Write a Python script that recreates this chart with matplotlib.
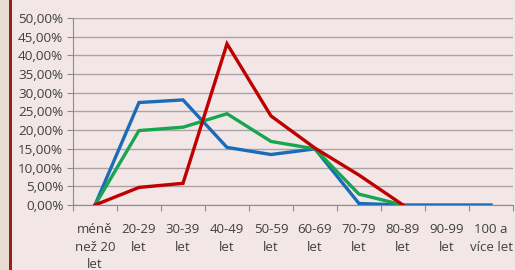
import matplotlib
matplotlib.use("Agg")
import matplotlib.pyplot as plt
from matplotlib.patches import Rectangle
from matplotlib.ticker import FuncFormatter, MultipleLocator

categories = ["méně\nnež 20\nlet", "20-29\nlet", "30-39\nlet", "40-49\nlet", "50-59\nlet",
              "60-69\nlet", "70-79\nlet", "80-89\nlet", "90-99\nlet", "100 a\nvíce let"]
blue = [0.0, 27.4, 28.1, 15.4, 13.5, 15.0, 0.4, 0.0, 0.0, 0.0]
green = [0.0, 19.9, 20.8, 24.4, 17.0, 15.0, 2.9, 0.0]
red = [0.0, 4.7, 5.8, 43.1, 23.8, 15.2, 8.0, 0.0]

plt.rcParams['font.family'] = ['Open Sans', 'DejaVu Sans']

fig = plt.figure(figsize=(5.15, 2.70), dpi=100)
bg = "#F2E6E7"
fig.patch.set_facecolor(bg)
# left decorative strip
fig.patches.append(Rectangle((0, 0), 9/515, 1, transform=fig.transFigure,
                             facecolor="#E9DDD2", edgecolor="none", zorder=0))
fig.patches.append(Rectangle((9/515, 0), 2.5/515, 1, transform=fig.transFigure,
                             facecolor="#9E1F1F", edgecolor="none", zorder=0))

ax = fig.add_axes([73/515, 1 - 205/270, 440/515, 187/270])
ax.set_facecolor(bg)

x = list(range(len(categories)))
ax.plot(x[:len(blue)], [v / 100 for v in blue], color="#1A6CB8", lw=2.4, solid_joinstyle="miter", zorder=3)
ax.plot(x[:len(green)], [v / 100 for v in green], color="#17A650", lw=2.4, solid_joinstyle="miter", zorder=4)
ax.plot(x[:len(red)], [v / 100 for v in red], color="#C00000", lw=2.4, solid_joinstyle="miter", zorder=5)

ax.set_xlim(-0.5, len(categories) - 0.5)
ax.set_ylim(0, 0.5)
ax.yaxis.set_major_locator(MultipleLocator(0.05))
ax.yaxis.set_major_formatter(FuncFormatter(lambda v, p: f"{v*100:.2f}%".replace(".", ",")))
ax.grid(axis="y", color="#ABA3A3", lw=1.0)
ax.set_axisbelow(True)

ax.set_xticks([i - 0.5 for i in range(len(categories) + 1)])
ax.set_xticklabels([])
ax.set_xticks(x, minor=True)
ax.set_xticklabels(categories, minor=True, fontsize=9.5, color="#404040", linespacing=1.45)
ax.tick_params(axis="x", which="minor", length=0, pad=13)
ax.tick_params(axis="x", which="major", length=4, color="#8C8C8C", direction="out")
ax.tick_params(axis="y", length=4, color="#8C8C8C", labelsize=9.7, labelcolor="#404040", pad=3)

for s in ["top", "right"]:
    ax.spines[s].set_visible(False)
ax.spines["left"].set_color("#8C8C8C")
ax.spines["bottom"].set_color("#8C8C8C")

fig.savefig("out.png", dpi=100, facecolor=bg)
